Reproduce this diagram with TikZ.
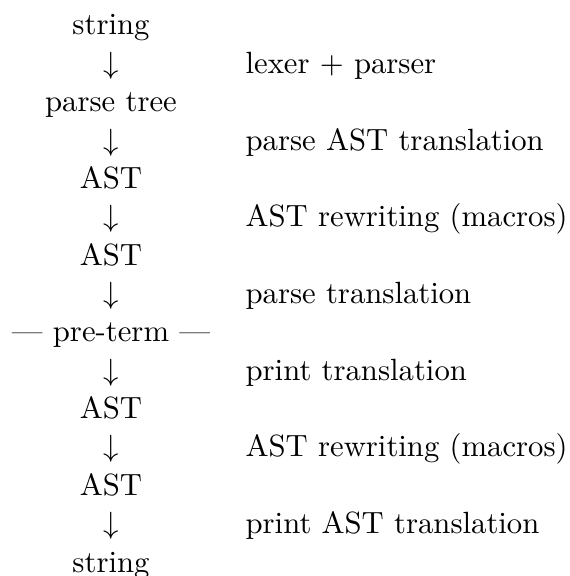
\documentclass[tikz,border=0pt]{standalone}
\begin{document}
\begin{tikzpicture}[x=0.3257pt,y=-0.3257pt,
  stage/.style={anchor=base,inner sep=0pt},
  arr/.style={anchor=base,inner sep=0pt},
  lbl/.style={anchor=base west,inner sep=0pt}]
\useasboundingbox (0,0) rectangle (570,576);
\def\rowh{38.36}
\node[stage] (s0) at (111,35) {string};
\node[arr] (a1) at (111,35+1*\rowh) {$\downarrow$};
\node[lbl] (l1) at (245,35+1*\rowh) {lexer + parser};
\node[stage] (s1) at (111,35+2*\rowh) {parse tree};
\node[arr] (a2) at (111,35+3*\rowh) {$\downarrow$};
\node[lbl] (l2) at (245,35+3*\rowh) {parse AST translation};
\node[stage] (s2) at (111,35+4*\rowh) {AST};
\node[arr] (a3) at (111,35+5*\rowh) {$\downarrow$};
\node[lbl] (l3) at (245,35+5*\rowh) {AST rewriting (macros)};
\node[stage] (s3) at (111,35+6*\rowh) {AST};
\node[arr] (a4) at (111,35+7*\rowh) {$\downarrow$};
\node[lbl] (l4) at (245,35+7*\rowh) {parse translation};
\node[stage] (s4) at (111,35+8*\rowh) {--- pre-term ---};
\node[arr] (a5) at (111,35+9*\rowh) {$\downarrow$};
\node[lbl] (l5) at (245,35+9*\rowh) {print translation};
\node[stage] (s5) at (111,35+10*\rowh) {AST};
\node[arr] (a6) at (111,35+11*\rowh) {$\downarrow$};
\node[lbl] (l6) at (245,35+11*\rowh) {AST rewriting (macros)};
\node[stage] (s6) at (111,35+12*\rowh) {AST};
\node[arr] (a7) at (111,35+13*\rowh) {$\downarrow$};
\node[lbl] (l7) at (245,35+13*\rowh) {print AST translation};
\node[stage] (s7) at (111,35+14*\rowh) {string};
\end{tikzpicture}
\end{document}
